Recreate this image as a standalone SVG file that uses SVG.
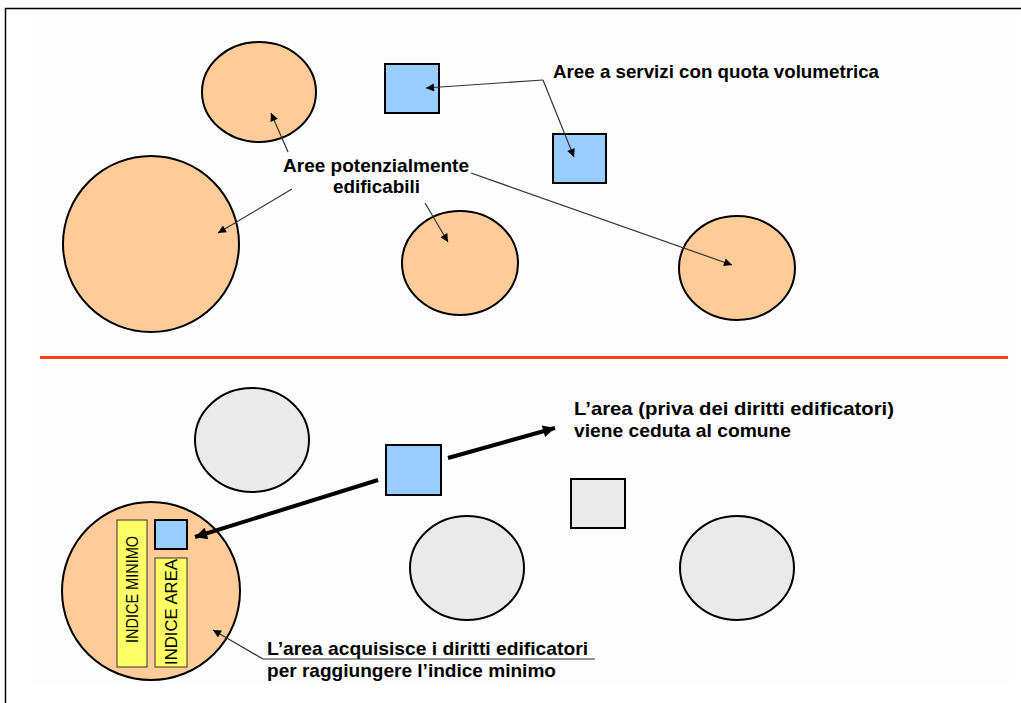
<svg xmlns="http://www.w3.org/2000/svg" width="1021" height="703" viewBox="0 0 1021 703">
<style>
.lbl{font-family:"Liberation Sans",Arial,sans-serif;font-weight:bold;font-size:19px;fill:#000}
.vt{font-family:"Liberation Sans",Arial,sans-serif;font-size:16px;fill:#000}
.orange{fill:#FFCC99;stroke:#000;stroke-width:2}
.gray{fill:#EAEAEA;stroke:#000;stroke-width:2}
.blue{fill:#99CCFF;stroke:#000;stroke-width:2}
.graysq{fill:#EAEAEA;stroke:#000;stroke-width:2}
.yel{fill:#FFFF66;stroke:#333;stroke-width:1}
.thin{fill:none;stroke:#333;stroke-width:1.2;marker-end:url(#ah)}
.thick{fill:none;stroke:#000;stroke-width:4;marker-end:url(#ahb)}
</style>
<defs>
<marker id="ah" viewBox="0 0 10 10" refX="10" refY="5" markerWidth="10" markerHeight="8" markerUnits="userSpaceOnUse" orient="auto"><path d="M0,0 L10,5 L0,10 z" fill="#000"/></marker>
<marker id="ahb" viewBox="0 0 10 10" refX="10" refY="5" markerWidth="14" markerHeight="12" markerUnits="userSpaceOnUse" orient="auto"><path d="M0,0 L10,5 L0,10 z" fill="#000"/></marker>
</defs>
<rect x="0" y="0" width="1021" height="703" fill="#fff"/>
<rect x="32" y="18" width="978" height="667" fill="#fdfdfd"/>
<rect x="5.5" y="8.5" width="1030" height="710" fill="none" stroke="#000" stroke-width="1.5"/>
<line x1="40" y1="357.5" x2="1008" y2="357.5" stroke="#FF3C14" stroke-width="3"/>

<g id="ell-top1"><ellipse class="orange" cx="259" cy="92" rx="57" ry="50"/></g>
<g id="circle-big-top"><circle class="orange" cx="151" cy="244" r="88"/></g>
<g id="ell-mid-top"><ellipse class="orange" cx="460" cy="263" rx="58" ry="52"/></g>
<g id="ell-right-top"><ellipse class="orange" cx="737" cy="268" rx="58" ry="52"/></g>
<g id="sq-top1"><rect class="blue" x="385" y="64" width="54" height="49"/></g>
<g id="sq-top2"><rect class="blue" x="553" y="134" width="53" height="49"/></g>

<g id="ell-bot1"><ellipse class="gray" cx="252" cy="440" rx="57" ry="52"/></g>
<g id="sq-bot-blue"><rect class="blue" x="386" y="445" width="55" height="50"/></g>
<g id="sq-bot-gray"><rect class="graysq" x="571" y="479" width="54" height="49"/></g>
<g id="ell-bot-mid"><ellipse class="gray" cx="467" cy="568" rx="57" ry="52"/></g>
<g id="ell-bot-right"><ellipse class="gray" cx="737" cy="568" rx="57" ry="52"/></g>
<g id="circle-big-bot">
<circle class="orange" cx="151" cy="591" r="89"/>
<rect class="yel" x="117" y="520" width="30" height="147"/>
<text class="vt" transform="translate(138,643) rotate(-90)" textLength="107" lengthAdjust="spacingAndGlyphs">INDICE MINIMO</text>
<rect class="blue" x="155" y="520" width="32" height="29" stroke-width="1.2"/>
<rect class="yel" x="155" y="558" width="32" height="109"/>
<text class="vt" transform="translate(177,665) rotate(-90)" textLength="106" lengthAdjust="spacingAndGlyphs">INDICE AREA</text>
</g>

<g id="labels">
<text class="lbl" x="553" y="78" textLength="326" lengthAdjust="spacingAndGlyphs">Aree a servizi con quota volumetrica</text>
<text class="lbl" x="283" y="172" textLength="186" lengthAdjust="spacingAndGlyphs">Aree potenzialmente</text>
<text class="lbl" x="333" y="193" textLength="87" lengthAdjust="spacingAndGlyphs">edificabili</text>
<text class="lbl" x="574" y="415" textLength="320" lengthAdjust="spacingAndGlyphs">L’area (priva dei diritti edificatori)</text>
<text class="lbl" x="574" y="437" textLength="217" lengthAdjust="spacingAndGlyphs">viene ceduta al comune</text>
<text class="lbl" x="267" y="655" textLength="321" lengthAdjust="spacingAndGlyphs">L’area acquisisce i diritti edificatori</text>
<text class="lbl" x="267" y="677" textLength="289" lengthAdjust="spacingAndGlyphs">per raggiungere l’indice minimo</text>
</g>

<g id="connectors">
<path class="thin" d="M543,80 L426,88"/>
<path class="thin" d="M543,80 L574,157"/>
<path class="thin" d="M288,152 L271,113"/>
<path class="thin" d="M292,189 L218,233"/>
<path class="thin" d="M425,203 L448,242"/>
<path class="thin" d="M471,173 L732,265"/>
<path class="thick" d="M448,458 L555,428"/>
<path class="thick" d="M378,480 L195,537"/>
<path fill="none" stroke="#333" stroke-width="1.2" d="M595,659 L263,659"/>
<path class="thin" d="M263,659 L213,630"/>
</g>
</svg>
